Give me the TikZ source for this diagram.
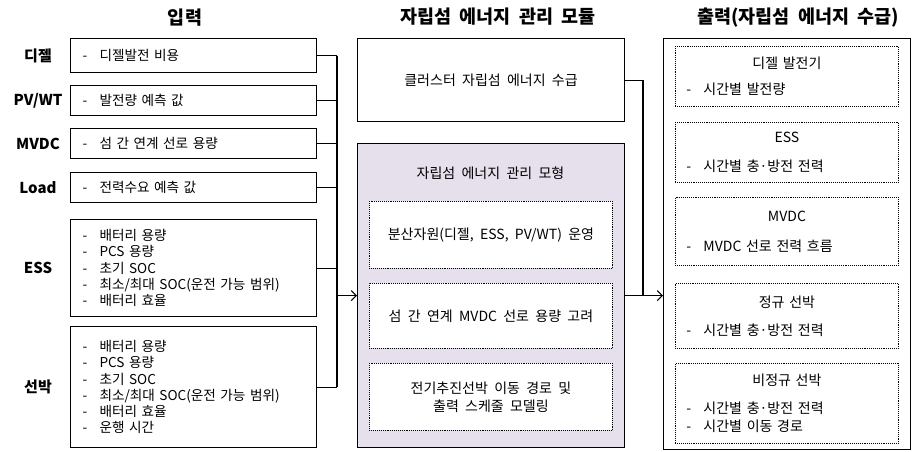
\documentclass[tikz,border=0pt]{standalone}
\usepackage{fontspec}
\setmainfont{Noto Sans CJK KR}[WordSpace=2]
\usetikzlibrary{positioning,arrows.meta}
\definecolor{modfill}{HTML}{E5E0EC}
\newcommand\dashitem[1]{\makebox[17pt][l]{-}#1}
\tikzset{
  title/.style={font=\fontsize{18.5}{21}\selectfont\bfseries},
  side/.style={font=\fontsize{15}{18}\selectfont\bfseries},
  inbox/.style={draw, line width=1.1pt, anchor=north west, minimum width=246pt,
    text width=222pt, inner xsep=12pt, inner ysep=0pt, align=left,
    font=\fontsize{13.6}{16.2}\selectfont},
  bigbox/.style={draw, line width=1.1pt, anchor=north west, inner sep=0pt,
    font=\fontsize{14}{18}\selectfont},
  dotbox/.style={draw, densely dotted, line width=0.9pt, fill=white, anchor=north west,
    inner sep=0pt, minimum width=243pt, align=center, font=\fontsize{14}{18}\selectfont},
  outbox/.style={dotbox, minimum width=223pt, text width=201pt, inner xsep=11pt, align=left},
  wire/.style={line width=1.1pt},
  feed/.style={wire, -{Straight Barb[length=5pt,width=10pt]}}
}
\begin{document}
\begin{tikzpicture}[x=1pt,y=-1pt]
\useasboundingbox (0,0) rectangle (915,451);

  \node[title] (intitle) at (185,18) {입력};
  \node[title] (modtitle) at (498,17) {자립섬 에너지 관리 모듈};
  \node[title] (outtitle) at (798,18) {출력(자립섬 에너지 수급)};

  \node[inbox, minimum height=34pt] (diesel) at (70,38) {\dashitem{디젤발전 비용}};
  \node[inbox, minimum height=30pt] (pvwt) at (70,85) {\dashitem{발전량 예측 값}};
  \node[inbox, minimum height=30pt] (mvdc) at (70,128) {\dashitem{섬 간 연계 선로 용량}};
  \node[inbox, minimum height=30pt] (load) at (70,172) {\dashitem{전력수요 예측 값}};
  \node[inbox, minimum height=97pt] (ess) at (70,219)
    {\dashitem{배터리 용량}\\ \dashitem{PCS 용량}\\ \dashitem{초기 SOC}\\
     \dashitem{최소/최대 SOC(운전 가능 범위)}\\ \dashitem{배터리 효율}};
  \node[inbox, minimum height=121pt] (ship) at (70,326)
    {\dashitem{배터리 용량}\\ \dashitem{PCS 용량}\\ \dashitem{초기 SOC}\\
     \dashitem{최소/최대 SOC(운전 가능 범위)}\\ \dashitem{배터리 효율}\\ \dashitem{운행 시간}};

  \coordinate (labelx) at (38,0);
  \node[side] (dieselname) at (labelx |- diesel.west) {디젤};
  \node[side] (pvwtname) at (labelx |- pvwt.west) {PV/WT};
  \node[side] (mvdcname) at (labelx |- mvdc.west) {MVDC};
  \node[side] (loadname) at (labelx |- load.west) {Load};
  \node[side] (essname) at (labelx |- ess.west) {ESS};
  \node[side] (shipname) at (labelx |- ship.west) {선박};

  \node[bigbox, minimum width=267pt, minimum height=83pt] (cluster) at (357,38) {클러스터 자립섬 에너지 수급};
  \node[bigbox, fill=modfill, minimum width=267pt, minimum height=304pt] (model) at (357,143) {};
  \node[font=\fontsize{14}{18}\selectfont] (modelname) at (490.5,173) {자립섬 에너지 관리 모형};
  \node[dotbox, minimum height=67pt] (der) at (369,201) {분산자원(디젤, ESS, PV/WT) 운영};
  \node[dotbox, minimum height=65pt] (link) at (369,283) {섬 간 연계 MVDC 선로 용량 고려};
  \node[dotbox, minimum height=67pt] (vessel) at (369,363) {전기추진선박 이동 경로 및\\출력 스케줄 모델링};

  \node[bigbox, minimum width=247pt, minimum height=411pt] (out) at (663,38) {};
  \node[outbox, minimum height=60pt] (odiesel) at (675,46)
    {\makebox[201pt]{디젤 발전기}\\[8pt] \dashitem{시간별 발전량}};
  \node[outbox, minimum height=60pt] (oess) at (675,122)
    {\makebox[201pt]{ESS}\\[11pt] \dashitem{시간별 충·방전 전력}};
  \node[outbox, minimum height=68pt] (omvdc) at (675,197)
    {\makebox[201pt]{MVDC}\\[12pt] \dashitem{MVDC 선로 전력 흐름}};
  \node[outbox, minimum height=65pt] (oreg) at (675,283)
    {\makebox[201pt]{정규 선박}\\[10pt] \dashitem{시간별 충·방전 전력}};
  \node[outbox, minimum height=80pt] (oirr) at (675,363)
    {\makebox[201pt]{비정규 선박}\\[10pt] \dashitem{시간별 충·방전 전력}\\ \dashitem{시간별 이동 경로}};

  \coordinate (bus) at (337,0);
  \foreach \n in {diesel,pvwt,mvdc,load,ess,ship}
    \draw[wire] (\n.east) -- (\n.east -| bus);
  \draw[wire] (diesel.east -| bus) -- (ship.east -| bus);
  \draw[feed] (bus |- model.west) -- (model.west);

  \coordinate (join) at (643,0);
  \draw[wire] (cluster.east) -| (join |- model.east);
  \draw[feed] (model.east) -- (out.west |- model.east);

\end{tikzpicture}
\end{document}
